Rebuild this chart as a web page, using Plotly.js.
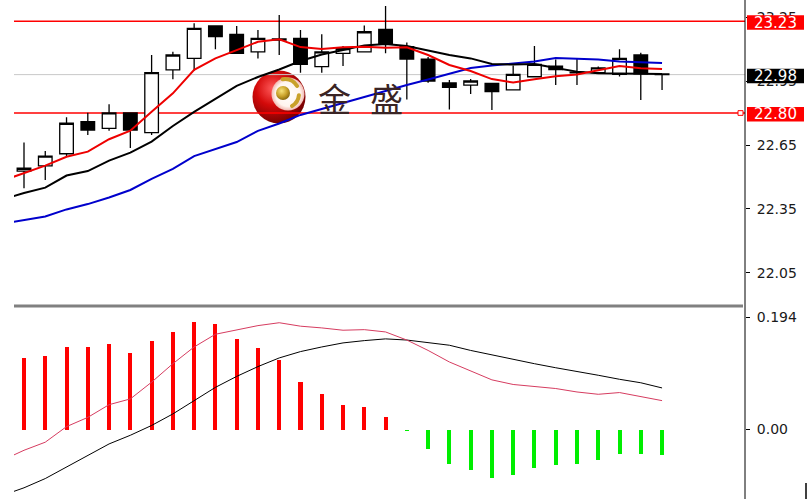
<!DOCTYPE html>
<html>
<head>
<meta charset="utf-8">
<script src="https://cdn.plot.ly/plotly-3.0.1.min.js"></script>
<style>
  html, body { margin: 0; padding: 0; background: #ffffff; }
  #chart { width: 808px; height: 499px; }
</style>
</head>
<body>
<div id="chart"></div>
<script>
// ---- Daily candles (one per trading session) ----
const opens  = [22.528, 22.552, 22.609, 22.759, 22.728, 22.800, 22.708, 23.002, 23.056, 23.208, 23.169,
                23.087, 23.142, 23.150, 23.017, 23.080, 23.087, 23.192, 23.111, 23.052, 22.941, 22.931,
                22.939, 22.908, 22.970, 23.020, 22.988, 22.989, 22.981, 23.072, 22.983];
const highs  = [22.662, 22.622, 22.780, 22.801, 22.841, 22.802, 23.072, 23.087, 23.221, 23.208, 23.208,
                23.189, 23.259, 23.189, 23.169, 23.114, 23.210, 23.302, 23.130, 23.063, 22.955, 22.959,
                22.941, 23.023, 23.114, 23.051, 23.053, 23.018, 23.099, 23.083, 22.986];
const lows   = [22.447, 22.486, 22.595, 22.697, 22.717, 22.636, 22.697, 22.958, 22.998, 23.099, 23.077,
                23.056, 23.072, 22.989, 22.989, 23.020, 23.086, 23.080, 22.863, 22.942, 22.817, 22.889,
                22.814, 22.908, 22.970, 22.931, 22.931, 22.986, 22.971, 22.861, 22.908];
const closes = [22.541, 22.598, 22.752, 22.720, 22.801, 22.720, 22.989, 23.072, 23.197, 23.158, 23.080,
                23.150, 23.147, 23.028, 23.087, 23.102, 23.181, 23.127, 23.053, 22.950, 22.920, 22.950,
                22.900, 22.981, 23.028, 23.004, 22.992, 23.012, 23.056, 22.983, 22.980];

// ---- Moving averages: first value is the session before the first candle ----
const ma5  = [22.483, 22.517, 22.553, 22.595, 22.619, 22.677, 22.717, 22.806, 22.892, 23.002, 23.056,
              23.095, 23.134, 23.146, 23.109, 23.100, 23.108, 23.111, 23.106, 23.108, 23.072, 23.025,
              22.997, 22.959, 22.943, 22.958, 22.972, 22.981, 22.999, 23.020, 23.010, 23.006];
const ma10 = [22.395, 22.425, 22.450, 22.507, 22.528, 22.577, 22.614, 22.666, 22.739, 22.805, 22.866,
              22.927, 22.969, 23.004, 23.044, 23.074, 23.095, 23.117, 23.124, 23.114, 23.093, 23.072,
              23.056, 23.030, 23.027, 23.030, 23.011, 22.994, 22.986, 22.986, 22.986, 22.983];
const ma20 = [22.281, 22.298, 22.315, 22.348, 22.373, 22.404, 22.439, 22.491, 22.538, 22.598, 22.631,
              22.664, 22.716, 22.751, 22.791, 22.819, 22.849, 22.877, 22.906, 22.931, 22.957, 22.983,
              23.011, 23.023, 23.032, 23.041, 23.058, 23.056, 23.051, 23.041, 23.036, 23.034];

// ---- MACD ----
const macdDif = [-0.053, -0.036, -0.022, 0.005, 0.021, 0.043, 0.053, 0.082, 0.114, 0.143, 0.165,
                 0.172, 0.180, 0.185, 0.179, 0.176, 0.172, 0.173, 0.169, 0.155, 0.137, 0.117,
                 0.102, 0.086, 0.078, 0.075, 0.071, 0.065, 0.061, 0.064, 0.057, 0.050];
const macdDea = [-0.114, -0.101, -0.085, -0.065, -0.045, -0.025, -0.010, 0.007, 0.027, 0.050, 0.073,
                 0.092, 0.109, 0.124, 0.135, 0.143, 0.150, 0.154, 0.157, 0.155, 0.151, 0.146,
                 0.137, 0.129, 0.121, 0.114, 0.107, 0.101, 0.094, 0.087, 0.081, 0.072];
const macdHist = [0.124, 0.127, 0.143, 0.143, 0.149, 0.133, 0.153, 0.169, 0.187, 0.182, 0.157,
                  0.141, 0.120, 0.083, 0.062, 0.043, 0.039, 0.021, -0.003, -0.033, -0.059, -0.071,
                  -0.084, -0.079, -0.067, -0.062, -0.059, -0.053, -0.042, -0.043, -0.045];

// ---- Price levels and axis ticks ----
const levelValues = [23.23, 22.80];
const lastPrice = 22.98;
const priceTicks = [22.05, 22.35, 22.65, 22.95, 23.25];
const macdTicks = [0, 0.194];
const macdTickText = ['0.00', '0.194'];
const brandChars = ['金', '盛'];

// ---- Geometry helpers (pixel -> paper) ----
const H = 499;
const plotLeft = 14, plotRight = 745;
const px2x = p => (p - plotLeft) / (plotRight - plotLeft);
const py2y = p => 1 - p / H;

const idx = opens.map((_, i) => i);
const lineIdx = ma5.map((_, i) => i - 1);

const traces = [
  {
    type: 'candlestick', x: idx, open: opens, high: highs, low: lows, close: closes,
    increasing: { line: { color: '#000000', width: 1.3 }, fillcolor: '#ffffff' },
    decreasing: { line: { color: '#000000', width: 1.3 }, fillcolor: '#000000' },
    whiskerwidth: 0, xaxis: 'x', yaxis: 'y', hoverinfo: 'skip'
  },
  { type: 'scatter', mode: 'lines', x: lineIdx, y: ma20, line: { color: '#0000cc', width: 2 }, xaxis: 'x', yaxis: 'y', hoverinfo: 'skip' },
  { type: 'scatter', mode: 'lines', x: lineIdx, y: ma10, line: { color: '#000000', width: 2 }, xaxis: 'x', yaxis: 'y', hoverinfo: 'skip' },
  { type: 'scatter', mode: 'lines', x: lineIdx, y: ma5,  line: { color: '#ee0000', width: 2 }, xaxis: 'x', yaxis: 'y', hoverinfo: 'skip' },
  {
    type: 'bar', x: idx, y: macdHist, width: 0.19,
    marker: { color: macdHist.map(v => v >= 0 ? '#ff0000' : '#00ee00'), line: { width: 0 } },
    xaxis: 'x2', yaxis: 'y2', hoverinfo: 'skip'
  },
  { type: 'scatter', mode: 'lines', x: lineIdx, y: macdDea, line: { color: '#000000', width: 1 }, xaxis: 'x2', yaxis: 'y2', hoverinfo: 'skip' },
  { type: 'scatter', mode: 'lines', x: lineIdx, y: macdDif, line: { color: 'rgb(214,60,96)', width: 1 }, xaxis: 'x2', yaxis: 'y2', hoverinfo: 'skip' }
];

const tickFont = { family: 'DejaVu Sans, Verdana, sans-serif', size: 14, color: '#1a1a1a' };

const shapes = [];
levelValues.forEach(v => shapes.push({
  type: 'line', xref: 'paper', x0: 0, x1: 1, yref: 'y', y0: v, y1: v,
  line: { color: '#ff0000', width: 1.5 }, layer: 'below'
}));
shapes.push({
  type: 'line', xref: 'paper', x0: 0, x1: 1, yref: 'y', y0: lastPrice, y1: lastPrice,
  line: { color: '#c8c8c8', width: 1 }, layer: 'below'
});
// panel separator
shapes.push({
  type: 'line', xref: 'paper', x0: 0, x1: px2x(743), yref: 'paper', y0: py2y(306), y1: py2y(306),
  line: { color: '#808080', width: 3 }
});
// price scale border
shapes.push({
  type: 'line', xref: 'paper', x0: 1, x1: 1, yref: 'paper', y0: 0, y1: 1,
  line: { color: '#000000', width: 1 }
});
shapes.push({
  type: 'line', xref: 'paper', x0: px2x(806), x1: px2x(806), yref: 'paper', y0: 0, y1: py2y(483),
  line: { color: '#000000', width: 1.5 }
});
// small marker at the end of the support line
shapes.push({
  type: 'rect', xref: 'paper', x0: px2x(738), x1: px2x(743), yref: 'y', y0: levelValues[1] - 0.011, y1: levelValues[1] + 0.011,
  line: { color: '#ff0000', width: 1 }, fillcolor: '#ffffff'
});

// price tags on the scale
const tags = [
  { v: levelValues[0], bg: '#ff0000' },
  { v: lastPrice, bg: '#000000' },
  { v: levelValues[1], bg: '#ff0000' }
];
const annotations = [];
tags.forEach(t => {
  shapes.push({
    type: 'rect', xref: 'paper', x0: px2x(747), x1: px2x(804), yref: 'y', y0: t.v - 0.04, y1: t.v + 0.028,
    fillcolor: t.bg, line: { width: 0 }
  });
  annotations.push({
    xref: 'paper', x: px2x(775.5), yref: 'y', y: t.v - 0.006, xanchor: 'center', yanchor: 'middle',
    text: t.v.toFixed(2), showarrow: false,
    font: { family: 'DejaVu Sans, Verdana, sans-serif', size: 15, color: '#ffffff' }
  });
});

// brand mark
const brandX = [334, 386.5];
brandChars.forEach((c, i) => annotations.push({
  xref: 'paper', x: px2x(brandX[i]), yref: 'paper', y: py2y(98), xanchor: 'center', yanchor: 'middle',
  text: c, showarrow: false,
  font: { family: 'Noto Sans CJK SC, sans-serif', size: 33, color: '#3a2424' }
}));

const logoSvg =
  '<svg xmlns="http://www.w3.org/2000/svg" width="58" height="58" viewBox="0 0 58 58">' +
  '<defs>' +
  '<radialGradient id="r" cx="38%" cy="34%" r="70%">' +
  '<stop offset="0%" stop-color="#ff5a5a"/><stop offset="45%" stop-color="#d40a0a"/><stop offset="100%" stop-color="#6e0000"/>' +
  '</radialGradient>' +
  '<radialGradient id="w" cx="50%" cy="50%" r="50%">' +
  '<stop offset="0%" stop-color="#ffffff"/><stop offset="75%" stop-color="#fff4ee"/><stop offset="100%" stop-color="#f2b8b0"/>' +
  '</radialGradient>' +
  '<radialGradient id="g" cx="40%" cy="35%" r="65%">' +
  '<stop offset="0%" stop-color="#f6e27a"/><stop offset="60%" stop-color="#c9a12a"/><stop offset="100%" stop-color="#8a6a10"/>' +
  '</radialGradient>' +
  '</defs>' +
  '<circle cx="28" cy="29" r="26.5" fill="url(#r)"/>' +
  '<circle cx="37" cy="26" r="16.5" fill="url(#w)"/>' +
  '<circle cx="32" cy="25" r="7" fill="url(#g)"/>' +
  '<path d="M 31.6 11.2 A 14 14 0 0 1 46.1 18" fill="none" stroke="#c9a12a" stroke-width="4" stroke-linecap="round"/>' +
  '<path d="M 47.9 27.2 A 14 14 0 0 1 41 38.1" fill="none" stroke="#c9a12a" stroke-width="4" stroke-linecap="round"/>' +
  '</svg>';

const layout = {
  width: 808, height: 499,
  margin: { l: plotLeft, r: 808 - plotRight, t: 0, b: 0, pad: 0 },
  paper_bgcolor: '#ffffff', plot_bgcolor: '#ffffff',
  showlegend: false,
  boxgap: 0.36, boxgroupgap: 0,
  bargap: 0,
  xaxis: { domain: [0, 1], range: [-0.47, 33.9], visible: false, anchor: 'y', rangeslider: { visible: false }, fixedrange: true },
  xaxis2: { domain: [0, 1], range: [-0.47, 33.9], visible: false, anchor: 'y2', fixedrange: true },
  yaxis: {
    domain: [py2y(304), 1], range: [21.9046, 23.3298], side: 'right', anchor: 'x',
    tickvals: priceTicks, ticktext: priceTicks.map(v => v.toFixed(2)),
    ticks: 'outside', ticklen: 4, tickcolor: '#000000', tickwidth: 1, ticklabelstandoff: 4,
    showgrid: false, zeroline: false, showline: false, tickfont: tickFont, fixedrange: true
  },
  yaxis2: {
    domain: [0, py2y(308)], range: [-0.1204, 0.2105], side: 'right', anchor: 'x2',
    tickvals: macdTicks, ticktext: macdTickText,
    ticks: 'outside', ticklen: 4, tickcolor: '#000000', tickwidth: 1, ticklabelstandoff: 4,
    showgrid: false, zeroline: false, showline: false, tickfont: tickFont, fixedrange: true
  },
  shapes: shapes,
  annotations: annotations,
  images: [{
    source: 'data:image/svg+xml;charset=utf-8,' + encodeURIComponent(logoSvg),
    xref: 'paper', yref: 'paper', x: px2x(251), y: py2y(68),
    sizex: px2x(309) - px2x(251), sizey: 58 / H,
    xanchor: 'left', yanchor: 'top', sizing: 'stretch', layer: 'below'
  }]
};

Plotly.newPlot('chart', traces, layout, { staticPlot: true, displayModeBar: false });
</script>
</body>
</html>
